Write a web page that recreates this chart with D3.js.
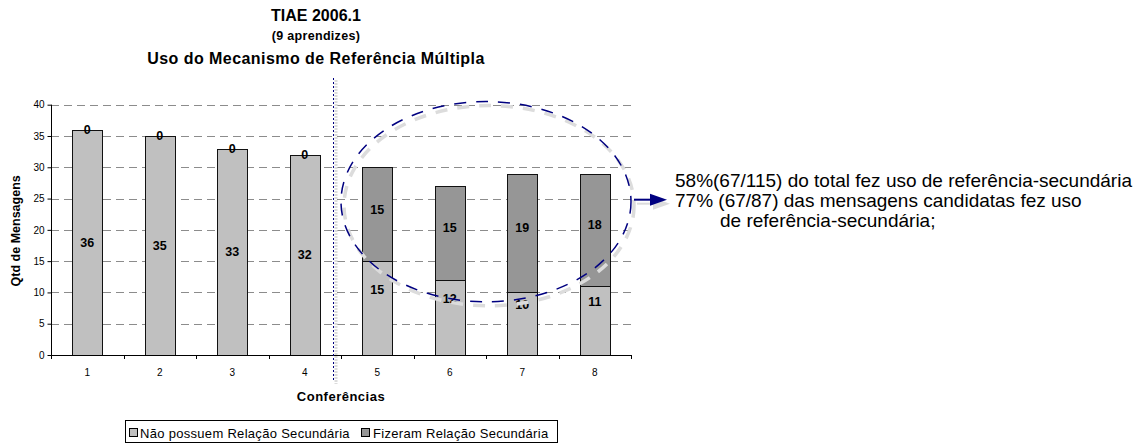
<!DOCTYPE html>
<html>
<head>
<meta charset="utf-8">
<script src="https://cdn.jsdelivr.net/npm/d3@7"></script>
<style>
  body { margin: 0; background: #fff; }
  svg { display: block; font-family: "Liberation Sans", Arial, sans-serif; }
</style>
</head>
<body>
<svg id="chart" width="1145" height="444"></svg>
<script>
// Conferences and message counts per series
const categories = ["1", "2", "3", "4", "5", "6", "7", "8"];
const semRelacao = [36, 35, 33, 32, 15, 12, 10, 11];   // Não possuem Relação Secundária
const comRelacao = [0, 0, 0, 0, 15, 15, 19, 18];       // Fizeram Relação Secundária
const yTicks = [0, 5, 10, 15, 20, 25, 30, 35, 40];
const seriesNames = ["Não possuem Relação Secundária", "Fizeram Relação Secundária"];
const titleLines = ["TIAE 2006.1", "(9 aprendizes)", "Uso do Mecanismo de Referência Múltipla"];
const noteLines = [
  "58%(67/115) do total fez uso de referência-secundária",
  "77% (67/87) das mensagens candidatas fez uso",
  "de referência-secundária;"
];
const xTitle = "Conferências";
const yTitle = "Qtd de Mensagens";

const svg = d3.select("#chart");
const navy = "#000080";
const shadow = "#dcdcdc";
const colors = ["#c0c0c0", "#969696"];

const plot = { left: 51, right: 631, top: 104.7, bottom: 355 };

const x = d3.scaleBand()
  .domain(categories)
  .range([plot.left, plot.right])
  .paddingInner(0.586)
  .paddingOuter(0.293);

const y = d3.scaleLinear().domain([0, 40]).range([plot.bottom, plot.top]);

// Stack layout built from the series arrays
const rows = categories.map((c, i) => ({ cat: c, sem: semRelacao[i], com: comRelacao[i] }));
const stacked = d3.stack().keys(["sem", "com"])(rows);

// Titles
const titles = svg.append("g").attr("font-weight", "bold").attr("text-anchor", "middle");
titles.append("text").attr("x", 316).attr("y", 21).attr("font-size", 16).text(titleLines[0]);
titles.append("text").attr("x", 316).attr("y", 40).attr("font-size", 12.5)
  .attr("letter-spacing", 0.3).text(titleLines[1]);
titles.append("text").attr("x", 316).attr("y", 63.5).attr("font-size", 16)
  .attr("letter-spacing", 0.45).text(titleLines[2]);

// Gridlines
svg.append("g")
  .selectAll("line")
  .data(yTicks.filter(t => t > 0))
  .join("line")
  .attr("x1", plot.left).attr("x2", plot.right)
  .attr("y1", d => Math.round(y(d)) + 0.5).attr("y2", d => Math.round(y(d)) + 0.5)
  .attr("stroke", "#8c8c8c").attr("stroke-width", 1)
  .attr("stroke-dasharray", "8,5");

// Bars
const barGroups = svg.append("g")
  .selectAll("g")
  .data(stacked)
  .join("g")
  .attr("fill", (d, i) => colors[i]);

barGroups.selectAll("rect")
  .data(d => d)
  .join("rect")
  .attr("x", d => Math.round(x(d.data.cat)) + 0.5)
  .attr("width", Math.round(x.bandwidth()))
  .attr("y", d => Math.round(y(d[1])) + 0.5)
  .attr("height", d => Math.round(y(d[0])) - Math.round(y(d[1])))
  .attr("stroke", "#111").attr("stroke-width", 1);

// Value labels; lower labels are lifted where an upper segment sits above them
const lowerLabelLift = 19;
stacked.forEach((layer, li) => {
  svg.append("g")
    .attr("font-size", 12.5).attr("font-weight", "bold").attr("text-anchor", "middle")
    .selectAll("text")
    .data(layer)
    .join("text")
    .attr("x", d => x(d.data.cat) + x.bandwidth() / 2)
    .attr("y", d => {
      let cy = y((d[0] + d[1]) / 2);
      if (li === 0 && d.data.com > 0) cy -= lowerLabelLift;
      if (li === 1 && d.data.com > 0) cy -= 5;
      return cy;
    })
    .attr("dy", "0.36em")
    .text(d => d[1] - d[0]);
});

// Y axis
const yAxis = svg.append("g")
  .attr("transform", `translate(${plot.left + 0.5},0)`)
  .call(d3.axisLeft(y).tickValues(yTicks).tickSize(4).tickPadding(3).tickFormat(d3.format("d")));
yAxis.select(".domain").attr("stroke", "#000").attr("d", `M0,${plot.top}V${plot.bottom}`);
yAxis.selectAll(".tick line").attr("stroke", "#000");
yAxis.selectAll(".tick text").attr("font-size", 10).attr("font-family", "Liberation Sans, Arial, sans-serif").attr("fill", "#000");

// X axis: labels centred under bars, tick marks between categories
const xAxis = svg.append("g")
  .attr("transform", `translate(0,${plot.bottom + 0.5})`)
  .call(d3.axisBottom(x).tickSize(0).tickPadding(13));
xAxis.select(".domain").attr("stroke", "#000").attr("d", `M${plot.left},0H${plot.right}`);
xAxis.selectAll(".tick text").attr("font-size", 10).attr("font-family", "Liberation Sans, Arial, sans-serif").attr("fill", "#000");
svg.append("g")
  .selectAll("line")
  .data(d3.range(categories.length + 1))
  .join("line")
  .attr("x1", i => Math.round(plot.left + i * x.step()) + 0.5)
  .attr("x2", i => Math.round(plot.left + i * x.step()) + 0.5)
  .attr("y1", plot.bottom).attr("y2", plot.bottom + 4)
  .attr("stroke", "#000");

// Axis titles
svg.append("text")
  .attr("x", (plot.left + plot.right) / 2).attr("y", 400.5)
  .attr("text-anchor", "middle").attr("font-size", 13).attr("font-weight", "bold")
  .attr("letter-spacing", 0.5).text(xTitle);
svg.append("text")
  .attr("transform", `translate(20,${(plot.top + plot.bottom) / 2 + 1}) rotate(-90)`)
  .attr("text-anchor", "middle").attr("font-size", 12.5).attr("font-weight", "bold")
  .text(yTitle);

// Divider between the two phases (dotted, with a soft shadow)
const splitX = plot.left + 4 * x.step() - 8;
svg.append("line")
  .attr("x1", splitX + 3).attr("x2", splitX + 3).attr("y1", 80).attr("y2", 384)
  .attr("stroke", shadow).attr("stroke-width", 3).attr("stroke-dasharray", "2,1");
svg.append("line")
  .attr("x1", splitX + 0.5).attr("x2", splitX + 0.5).attr("y1", 78).attr("y2", 382)
  .attr("stroke", navy).attr("stroke-width", 1).attr("stroke-dasharray", "2,2");

// Ellipse around conferences 5–8
const ex0 = plot.left + 4 * x.step(), ex1 = plot.right;
const ecx = (ex0 + ex1) / 2, erx = (ex1 - ex0) / 2;
const ecy = y(24.5), ery = (y(8.5) - y(40.5)) / 2;
svg.append("ellipse")
  .attr("cx", ecx + 3).attr("cy", ecy + 4).attr("rx", erx).attr("ry", ery)
  .attr("fill", "none").attr("stroke", shadow).attr("stroke-width", 3.5)
  .attr("stroke-dasharray", "12,10");
svg.append("ellipse")
  .attr("cx", ecx).attr("cy", ecy).attr("rx", erx).attr("ry", ery)
  .attr("fill", "none").attr("stroke", navy).attr("stroke-width", 1.5)
  .attr("stroke-dasharray", "12,10");

// Arrow pointing to the note
const ay = ecy - 2;
const arrow = (dx, dy, col) => {
  const g = svg.append("g").attr("transform", `translate(${dx},${dy})`);
  g.append("line").attr("x1", ex1 + 3).attr("x2", 652).attr("y1", ay).attr("y2", ay)
    .attr("stroke", col).attr("stroke-width", 2);
  g.append("path").attr("d", `M650,${ay - 6}L667,${ay}L650,${ay + 6}Z`).attr("fill", col);
};
arrow(3, 4, shadow);
arrow(0, 0, navy);

// Note text
const note = svg.append("g").attr("font-size", 19).attr("fill", "#000");
note.append("text").attr("x", 675).attr("y", 186.5).text(noteLines[0]);
note.append("text").attr("x", 675).attr("y", 206.5).text(noteLines[1]);
note.append("text").attr("x", 720).attr("y", 226.5).text(noteLines[2]);

// Legend
const legend = svg.append("g");
legend.append("rect")
  .attr("x", 125.5).attr("y", 420.5).attr("width", 432).attr("height", 22)
  .attr("fill", "#fff").attr("stroke", "#000");
const legendItems = [{ sx: 129, tx: 140 }, { sx: 361, tx: 373 }];
seriesNames.forEach((name, i) => {
  legend.append("rect")
    .attr("x", legendItems[i].sx + 0.5).attr("y", 428.5).attr("width", 8).attr("height", 8)
    .attr("fill", colors[i]).attr("stroke", "#000");
  legend.append("text")
    .attr("x", legendItems[i].tx).attr("y", 437.5)
    .attr("font-size", 13).attr("letter-spacing", 0.3).text(name);
});
</script>
</body>
</html>
